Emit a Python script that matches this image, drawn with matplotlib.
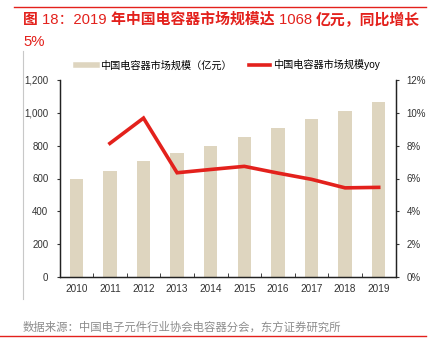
import matplotlib
matplotlib.use("Agg")
import matplotlib.pyplot as plt
import numpy as np
from matplotlib.lines import Line2D

plt.rcParams['font.family'] = ['Liberation Sans', 'Noto Sans CJK SC', 'DejaVu Sans']

years = ['2010', '2011', '2012', '2013', '2014', '2015', '2016', '2017', '2018', '2019']
market_size = [594, 645, 706, 753, 800, 853, 909, 960, 1012, 1068]
yoy_years = ['2011', '2012', '2013', '2014', '2015', '2016', '2017', '2018', '2019']
yoy = [8.14, 9.68, 6.35, 6.55, 6.74, 6.33, 5.95, 5.43, 5.46]

bar_color = '#DED5BF'
line_color = '#E3211C'
title_color = '#E3211C'

fig = plt.figure(figsize=(4.36, 3.56), dpi=100)
ax = fig.add_axes([59.5/436, 1-277/356, 336/436, 197/356])
ax2 = ax.twinx()

x = np.arange(len(years))
ax.bar(x, market_size, width=0.4, color=bar_color, zorder=2)
xi = [years.index(y) for y in yoy_years]
ax2.plot(xi, yoy, color=line_color, lw=2.6, solid_joinstyle='miter', zorder=3)

ax.set_xlim(-0.5, len(years)-0.5)
ax.set_ylim(0, 1200)
ax.set_yticks(range(0, 1201, 200))
ax.set_yticklabels([f'{v:,}' for v in range(0, 1201, 200)])
ax2.set_ylim(0, 12)
ax2.set_yticks(range(0, 13, 2))
ax2.set_yticklabels([f'{v}%' for v in range(0, 13, 2)])

ax.set_xticks(x)
ax.set_xticklabels(years)
ax.set_xticks(np.arange(-0.5, len(years), 1), minor=True)
ax.tick_params(axis='x', which='major', length=0, labelsize=7.2, pad=5, colors='#333333')
ax.tick_params(axis='x', which='minor', length=3, direction='in', color='#222222')
ax.tick_params(axis='y', length=2.5, direction='out', labelsize=7.0, colors='#333333', pad=5.5)
ax2.tick_params(axis='y', length=2.5, direction='out', labelsize=7.0, colors='#333333', pad=5.5)
for a in (ax, ax2):
    for t in a.yaxis.get_ticklines():
        t.set_color('#222222')

for a in (ax, ax2):
    a.spines['top'].set_visible(False)
    for s in ('left', 'right', 'bottom'):
        a.spines[s].set_color('#222222')
        a.spines[s].set_linewidth(0.9)

handles = [Line2D([0], [0], color=bar_color, lw=4),
           Line2D([0], [0], color=line_color, lw=2.6)]
labels = ['中国电容器市场规模（亿元）', '中国电容器市场规模yoy']
fig.legend(handles, labels, loc='center', bbox_to_anchor=(228/436, 1-65/356), ncol=2,
           frameon=False, fontsize=7.3, handlelength=2.1, handletextpad=0.3, columnspacing=1.7)

# title built from pieces: CJK bold, digits regular
fig.canvas.draw()
renderer = fig.canvas.get_renderer()
pieces = [('图 ', 'bold'), ('18：2019 ', 'normal'), ('年中国电容器市场规模达 ', 'bold'),
          ('1068 ', 'normal'), ('亿元，同比增长', 'bold')]
xpos = 23
for txt, w in pieces:
    t = fig.text(xpos/436, 1-20/356, txt, color=title_color, fontsize=10.7, fontweight=w,
                 va='center', ha='left')
    bb = t.get_window_extent(renderer=renderer)
    xpos += bb.width
fig.text(23/436, 1-42/356, '5%', color=title_color, fontsize=10.7, va='center', ha='left')

# source
fig.text(23/436, 1-327/356, '数据来源：中国电子元件行业协会电容器分会，东方证券研究所',
         color='#8C8C8C', fontsize=8.2, va='center', ha='left')

# decorative lines
fig.add_artist(Line2D([14/436, 426/436], [1-7/356, 1-7/356], color='#E3211C', lw=1.0))
fig.add_artist(Line2D([0/436, 426/436], [1-336/356, 1-336/356], color='#E3211C', lw=1.0))
fig.add_artist(Line2D([23.3/436, 23.3/436], [1-51/356, 1-299/356], color='#C8C8C8', lw=0.8))

fig.savefig('out.png', dpi=100)
